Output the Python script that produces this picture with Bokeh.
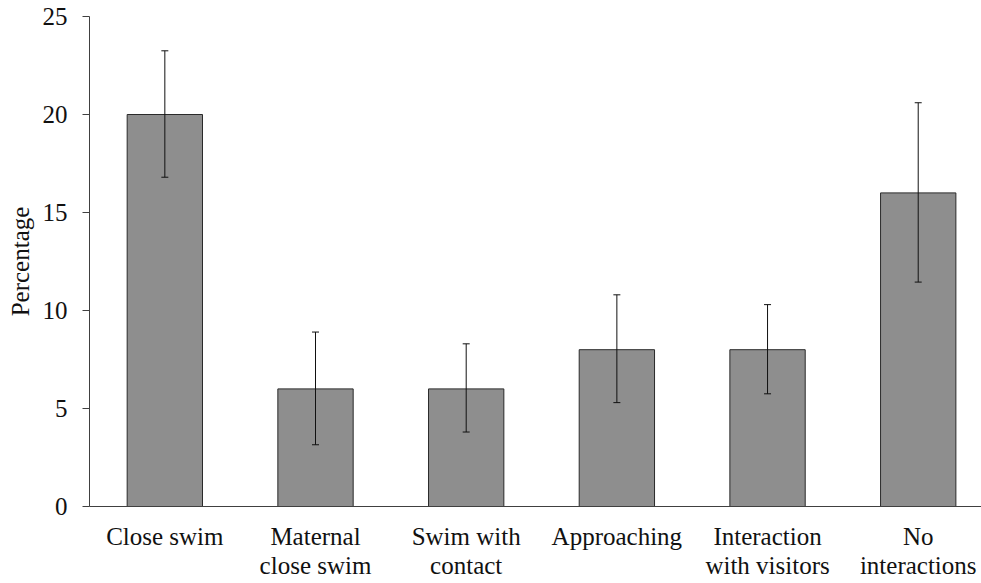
from bokeh.plotting import figure
from bokeh.models import ColumnDataSource, Whisker, TeeHead, Range1d, FixedTicker
from bokeh.embed import file_html
from bokeh.resources import INLINE

categories = ["Close swim", "Maternal\nclose swim", "Swim with\ncontact", "Approaching",
              "Interaction\nwith visitors", "No\ninteractions"]
values = [20, 6, 6, 8, 8, 16]
upper = [23.25, 8.9, 8.3, 10.8, 10.3, 20.6]
lower = [16.8, 3.15, 3.8, 5.3, 5.75, 11.45]
y_ticks = [0, 5, 10, 15, 20, 25]

x = list(range(len(categories)))
src = ColumnDataSource(dict(x=x, top=values, upper=upper, lower=lower))

FONT = "Liberation Serif"

p = figure(width=981, height=582, output_backend="svg", toolbar_location=None,
           x_range=Range1d(-0.5, 5.42), y_range=Range1d(0, 25),
           min_border_left=89, min_border_right=0, min_border_top=16, min_border_bottom=70)
p.outline_line_color = None
p.grid.visible = False

p.vbar(x="x", top="top", bottom=0, width=0.5, source=src,
       fill_color="#8e8e8e", line_color="#2a2a2a", line_width=1)

w = Whisker(base="x", upper="upper", lower="lower", source=src, level="overlay",
            line_color="#111111", line_width=1,
            upper_head=TeeHead(size=7, line_color="#111111", line_width=1),
            lower_head=TeeHead(size=7, line_color="#111111", line_width=1))
p.add_layout(w)

p.xaxis.ticker = FixedTicker(ticks=x)
p.xaxis.major_label_overrides = {i: c for i, c in enumerate(categories)}
p.xaxis.major_tick_line_color = None
p.xaxis.minor_tick_line_color = None
p.xaxis.major_label_standoff = 10
p.xaxis.major_label_text_line_height = 1.1
p.xaxis.axis_line_color = "#404040"

p.yaxis.ticker = FixedTicker(ticks=y_ticks)
p.yaxis.minor_tick_line_color = None
p.yaxis.major_tick_out = 7
p.yaxis.major_tick_in = 0
p.yaxis.major_tick_line_color = "#404040"
p.yaxis.axis_line_color = "#404040"
p.yaxis.major_label_standoff = 15
p.yaxis.axis_label = "Percentage"
p.yaxis.axis_label_standoff = 6

for ax in (p.xaxis, p.yaxis):
    ax.major_label_text_font = FONT
    ax.major_label_text_font_size = "25px"
    ax.major_label_text_color = "#111111"
    ax.axis_label_text_font = FONT
    ax.axis_label_text_font_size = "25px"
    ax.axis_label_text_font_style = "normal"
    ax.axis_label_text_color = "#111111"

open("out.html", "w").write(file_html(p, INLINE))
